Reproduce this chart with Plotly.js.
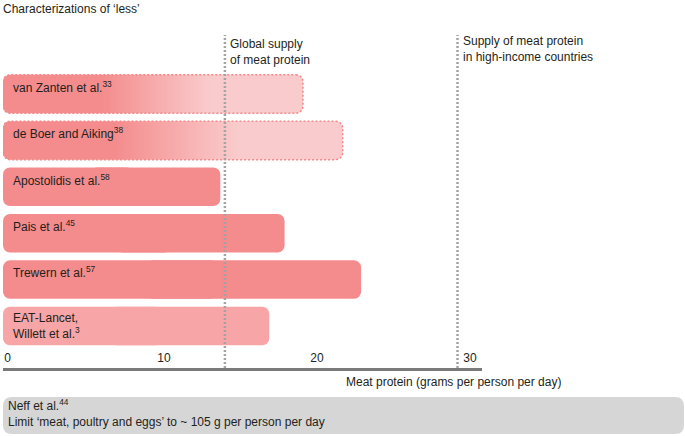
<!DOCTYPE html>
<html><head><meta charset="utf-8">
<script src="https://cdn.plot.ly/plotly-3.0.1.min.js"></script>
<style>html,body{margin:0;padding:0;background:#fff}#chart{width:685px;height:436px}</style>
</head><body><div id="chart"></div>
<script>
// ---- data ----
const studies = ['van Zanten et al.', 'de Boer and Aiking', 'Apostolidis et al.', 'Pais et al.', 'Trewern et al.', 'EAT-Lancet,<br>Willett et al.'];
const refNumbers = ['33', '38', '58', '45', '57', '3'];
const meatProtein = [19.6, 22.2, 14.2, 18.4, 23.4, 17.4];
const isRange = [true, true, false, false, false, false];
const referenceLines = [14.5, 29.7];
const referenceLabels = ['Global supply<br>of meat protein', 'Supply of meat protein<br>in high-income countries'];
const tickValues = [0, 10, 20, 30];
const tickLabels = ['0', '10', '20', '30'];
const chartTitle = 'Characterizations of \u2018less\u2019';
const axisTitle = 'Meat protein (grams per person per day)';
const noteText = 'Neff et al.<sup>44</sup><br>Limit \u2018meat, poultry and eggs\u2019 to ~ 105 g per person per day';

// ---- style ----
const FONT = 'Liberation Sans, Arial, Helvetica, sans-serif';
const TXT = '#231f20';
const SOLID = '#f48c8d', LIGHT = '#facbcc', EAT = '#f7a5a6';
const M = {l: 3, r: 203, t: 35, b: 68};
const W = 685, H = 436;
const xMax = 31.3;
const yRange = [5.905, -1.272];
const plotW = W - M.l - M.r, plotH = H - M.t - M.b;
const pxX = plotW / xMax, pxY = plotH / Math.abs(yRange[0] - yRange[1]);
const BARW = 0.83, RAD = 7;

const traces = [];
const solidIdx = studies.map((_, i) => i).filter(i => !isRange[i]);
const solidColors = solidIdx.map(i => i === 5 ? EAT : SOLID);
// left part (rounded at 0) and right part (rounded at value), overlapping
traces.push({
  type: 'bar', orientation: 'h', y: solidIdx,
  base: solidIdx.map(i => meatProtein[i] * 0.6), x: solidIdx.map(i => -meatProtein[i] * 0.6),
  width: BARW, marker: {color: solidColors, cornerradius: RAD, line: {width: 0}},
  hoverinfo: 'skip', showlegend: false
});
traces.push({
  type: 'bar', orientation: 'h', y: solidIdx,
  base: solidIdx.map(i => meatProtein[i] * 0.4), x: solidIdx.map(i => meatProtein[i] * 0.6),
  width: BARW, marker: {color: solidColors, cornerradius: RAD, line: {width: 0}},
  hoverinfo: 'skip', showlegend: false
});

function roundedRect(x0, x1, y0, y1, rx, ry) {
  const xs = [], ys = [];
  const corners = [[x1 - rx, y0 + ry, 270], [x1 - rx, y1 - ry, 0], [x0 + rx, y1 - ry, 90], [x0 + rx, y0 + ry, 180]];
  corners.forEach(([cx, cy, a0]) => {
    for (let k = 0; k <= 8; k++) {
      const a = (a0 + k * 90 / 8) * Math.PI / 180;
      xs.push(cx + rx * Math.cos(a)); ys.push(cy + ry * Math.sin(a));
    }
  });
  xs.push(xs[0]); ys.push(ys[0]);
  return {xs, ys};
}

studies.forEach((s, i) => {
  if (!isRange[i]) return;
  const r = roundedRect(0, meatProtein[i], i - BARW / 2, i + BARW / 2, RAD / pxX, RAD / pxY);
  traces.push({
    type: 'scatter', mode: 'lines', x: r.xs, y: r.ys, fill: 'toself',
    fillcolor: LIGHT,
    fillgradient: {type: 'horizontal', colorscale: [[0, SOLID], [0.33, SOLID], [0.69, LIGHT], [1, LIGHT]]},
    line: {color: '#f4878a', width: 1.5, dash: '2px,2px'},
    hoverinfo: 'skip', showlegend: false
  });
});

const annotations = [];
studies.forEach((s, i) => {
  annotations.push({
    text: s + '<sup>' + refNumbers[i] + '</sup>', xref: 'x', yref: 'y', x: 0, y: i - BARW / 2,
    xanchor: 'left', yanchor: 'top', xshift: 8, yshift: -2, align: 'left', showarrow: false,
    font: {family: FONT, size: 12, color: TXT}
  });
});
referenceLines.forEach((v, i) => {
  annotations.push({
    text: referenceLabels[i], xref: 'x', yref: 'paper', x: v, y: 1,
    xanchor: 'left', yanchor: 'top', xshift: 3, yshift: i === 0 ? 0 : 3, align: 'left', showarrow: false,
    font: {family: FONT, size: 12, color: TXT}
  });
});
annotations.push({
  text: axisTitle, xref: 'paper', yref: 'paper', x: (563 - M.l) / plotW, y: (H - M.b - 382) / plotH,
  xanchor: 'right', yanchor: 'middle', showarrow: false, font: {family: FONT, size: 12, color: TXT}
});
annotations.push({
  text: noteText, xref: 'paper', yref: 'paper', x: (6 - M.l) / plotW, y: (H - M.b - 413) / plotH,
  xanchor: 'left', yanchor: 'middle', align: 'left', showarrow: false, font: {family: FONT, size: 12, color: TXT}
});

// note box (rounded) in paper coords
function roundedPath(px0, px1, py0, py1, r) {
  const x0 = (px0 - M.l) / plotW, x1 = (px1 - M.l) / plotW;
  const y1 = (H - M.b - py0) / plotH, y0 = (H - M.b - py1) / plotH;
  const rx = r / plotW, ry = r / plotH;
  return `M${x0 + rx},${y1} L${x1 - rx},${y1} Q${x1},${y1} ${x1},${y1 - ry} L${x1},${y0 + ry} Q${x1},${y0} ${x1 - rx},${y0} L${x0 + rx},${y0} Q${x0},${y0} ${x0},${y0 + ry} L${x0},${y1 - ry} Q${x0},${y1} ${x0 + rx},${y1} Z`;
}
const shapes = [{
  type: 'path', xref: 'paper', yref: 'paper', path: roundedPath(3, 684, 397, 434, 9),
  fillcolor: '#d6d6d6', line: {width: 0}, layer: 'below'
}];
referenceLines.forEach(v => shapes.push({
  type: 'line', xref: 'x', yref: 'paper', x0: v, x1: v, y0: 0, y1: 1,
  line: {color: '#a3a3a3', width: 2.5, dash: '2px,2px'}, layer: 'above'
}));

const layout = {
  width: W, height: H, margin: M, paper_bgcolor: '#fff', plot_bgcolor: '#fff',
  font: {family: FONT, size: 12, color: TXT},
  title: {text: chartTitle, xref: 'container', yref: 'container', x: 3 / W, xanchor: 'left', y: 1 - 9 / H, yanchor: 'middle', font: {family: FONT, size: 12, color: TXT}},
  barmode: 'overlay', showlegend: false,
  xaxis: {range: [0, xMax], tickvals: tickValues, ticktext: tickLabels, ticklabelposition: 'inside right', ticks: '',
    showline: true, linecolor: '#7a7a7a', linewidth: 2.5, showgrid: false, zeroline: false,
    tickfont: {family: FONT, size: 12, color: TXT}, fixedrange: true},
  yaxis: {range: yRange, visible: false, showgrid: false, zeroline: false, fixedrange: true},
  annotations, shapes
};
Plotly.newPlot('chart', traces, layout, {staticPlot: true, displayModeBar: false});
</script></body></html>
